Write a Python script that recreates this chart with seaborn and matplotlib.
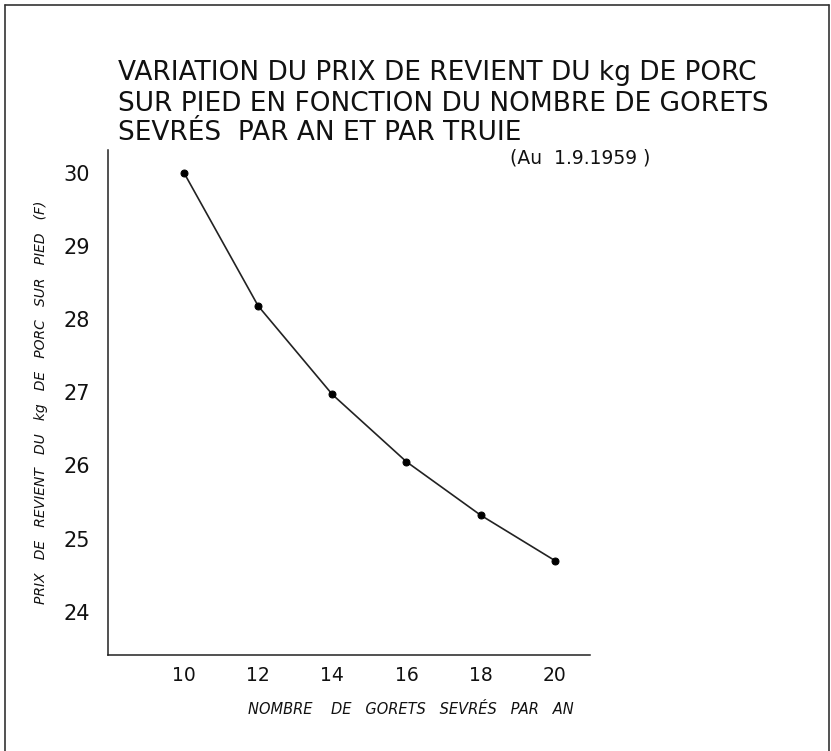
import pandas as pd
import seaborn as sns
import matplotlib.pyplot as plt
from matplotlib.lines import Line2D

# data
gorets = [10, 12, 14, 16, 18, 20]
prix = [30.0, 28.18, 26.97, 26.05, 25.32, 24.7]
x_ticks = [10, 12, 14, 16, 18, 20]
y_ticks = [24, 25, 26, 27, 28, 29, 30]

df = pd.DataFrame({'gorets': gorets, 'prix': prix})

sns.set_style('white')
plt.rcParams['font.family'] = ['DejaVu Sans']

fig = plt.figure(figsize=(8.31, 7.51), dpi=100)
ax = fig.add_axes([0.13, 0.128, 0.58, 0.672])

sns.lineplot(data=df, x='gorets', y='prix', ax=ax, color='#222222',
             linewidth=1.2, marker='o', markersize=5,
             markeredgecolor='black', markerfacecolor='black')

ax.set_xlim(7.95, 20.95)
ax.set_ylim(23.41, 30.31)
ax.set_xticks(x_ticks)
ax.set_yticks(y_ticks)
ax.set_yticklabels([str(t) for t in y_ticks], fontsize=15)
ax.set_xticklabels([str(t) for t in x_ticks], fontsize=13.5)
ax.tick_params(axis='x', direction='in', length=9, width=1, pad=8, colors='#222222')
ax.tick_params(axis='y', direction='out', length=7, width=1, pad=6, colors='#222222')
for lbl in ax.get_xticklabels() + ax.get_yticklabels():
    lbl.set_color('#111111')

sns.despine(ax=ax)
for s in ['left', 'bottom']:
    ax.spines[s].set_color('#222222')
    ax.spines[s].set_linewidth(1.1)

ax.set_xlabel('NOMBRE    DE   GORETS   SEVRÉS   PAR   AN', fontsize=10.5,
              style='italic', color='#111111')
ax.xaxis.set_label_coords(0.628, -0.093)
ax.set_ylabel('PRIX   DE   REVIENT   DU   kg   DE   PORC   SUR   PIED   (F)', fontsize=10,
              style='italic', color='#111111')
ax.yaxis.set_label_coords(-0.125, 0.5)

# title lines
fig.text(0.142, 0.903, 'VARIATION DU PRIX DE REVIENT DU kg DE PORC', fontsize=19,
         color='#111111', va='center', ha='left')
fig.text(0.142, 0.862, 'SUR PIED EN FONCTION DU NOMBRE DE GORETS', fontsize=19,
         color='#111111', va='center', ha='left')
fig.text(0.142, 0.823, 'SEVRÉS  PAR AN ET PAR TRUIE', fontsize=19,
         color='#111111', va='center', ha='left')
fig.text(0.614, 0.789, '(Au  1.9.1959 )', fontsize=13.5, color='#111111',
         va='center', ha='left')

# border of the scanned sheet
for xs, ys in [([0.006, 0.006], [0.0, 0.993]), ([0.006, 0.998], [0.993, 0.993]),
               ([0.998, 0.998], [0.0, 0.993])]:
    fig.add_artist(Line2D(xs, ys, color='#333333', linewidth=1.2,
                          transform=fig.transFigure))

fig.savefig('out.png', dpi=100, facecolor='white')
